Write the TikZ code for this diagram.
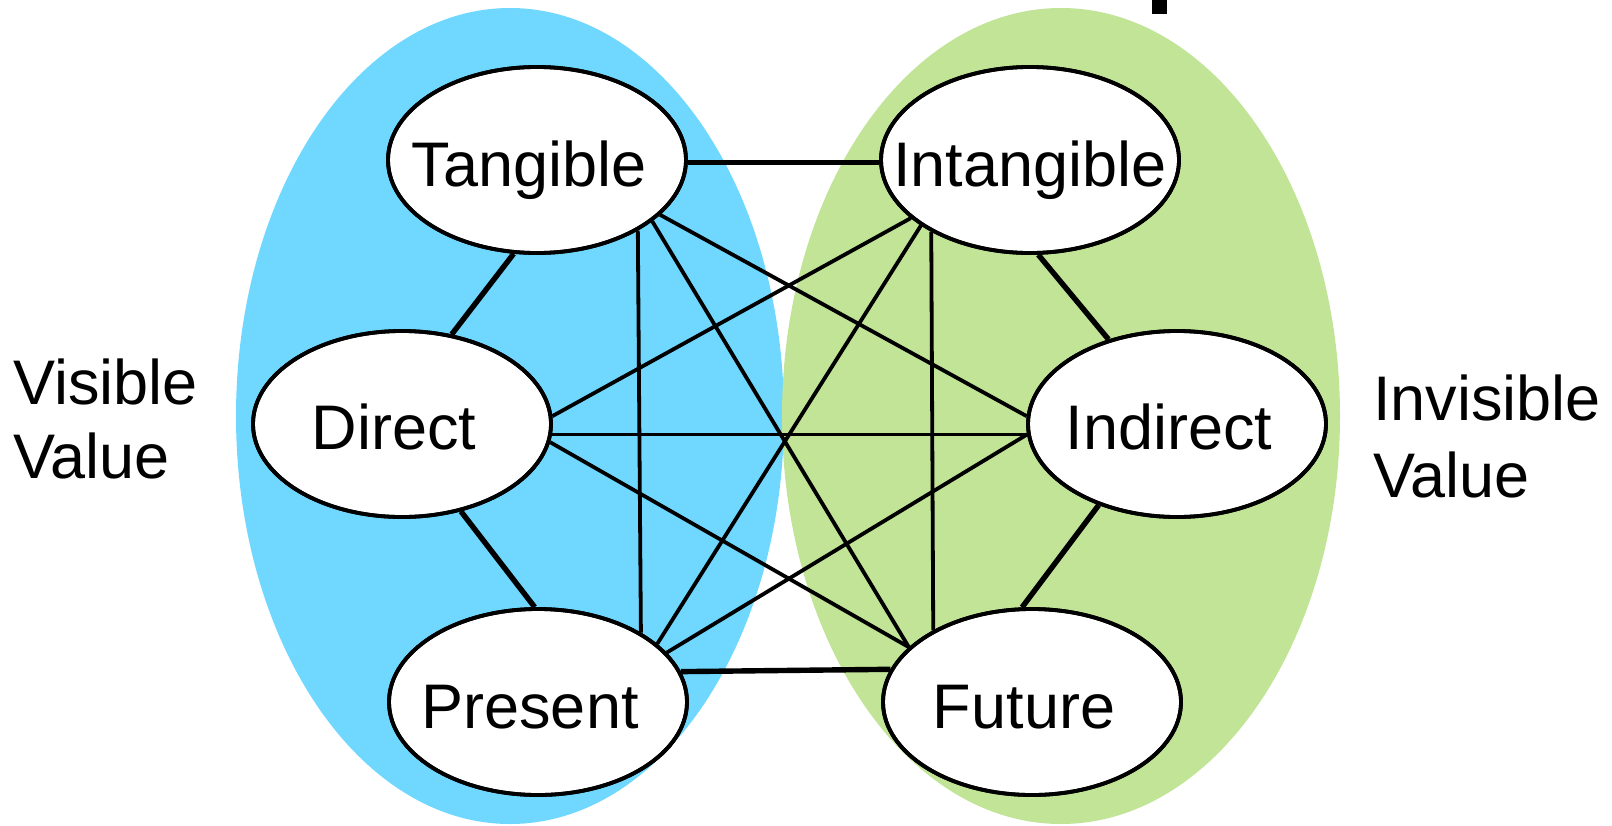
\documentclass[tikz,border=0pt]{standalone}
\usepackage{fontspec}
\setmainfont{Liberation Sans}
\usetikzlibrary{shapes.geometric}
\definecolor{vblue}{RGB}{112,216,255}
\definecolor{vgreen}{RGB}{193,228,151}
\tikzset{
  valnode/.style={ellipse, draw=black, line width=1.9pt, fill=white, minimum width=149pt, minimum height=93pt, inner sep=0pt},
  valtext/.style={font=\fontsize{31.5}{37}\selectfont, inner sep=0pt, anchor=base},
  sidetext/.style={font=\fontsize{31.5}{37}\selectfont, inner sep=0pt, anchor=base west},
  thicklink/.style={line width=2.7pt, black},
  thinlink/.style={line width=1.9pt, black},
}
\begin{document}
\begin{tikzpicture}[x=0.5pt, y=-0.5pt]
\useasboundingbox (0,0) rectangle (1612,825);
% big regions
\fill[vblue] (510,416) ellipse [x radius=274, y radius=408];
\fill[vgreen] (1061,416) ellipse [x radius=279, y radius=408];
\fill[black] (1152,0) rectangle (1167,14);
% nodes (shapes only; text placed afterwards)
\coordinate (cTan) at (537,160);
\coordinate (cDir) at (402,424);
\coordinate (cPre) at (538,702);
\coordinate (cInt) at (1030,160);
\coordinate (cInd) at (1177,424);
\coordinate (cFut) at (1032,702);
\path
  node[valnode] (tan) at (cTan) {}
  node[valnode] (dir) at (cDir) {}
  node[valnode] (pre) at (cPre) {}
  node[valnode] (int) at (cInt) {}
  node[valnode] (ind) at (cInd) {}
  node[valnode] (fut) at (cFut) {};
% thin links
\draw[thinlink] (tan.-35.4) -- (pre.34);
\draw[thinlink] (tan.-28.4) -- (fut.156);
\draw[thinlink] (tan.-24.8) -- (ind.177);
\draw[thinlink] (int.206.6) -- (dir.3);
\draw[thinlink] (int.211.4) -- (pre.26);
\draw[thinlink] (int.216.9) -- (fut.144.2);
\draw[thinlink] (dir.-4.7) -- (ind.184.7);
\draw[thinlink] (dir.-7) -- (fut.156.4);
\draw[thinlink] (pre.21) -- (ind.184.7);
% thick links
\draw[thicklink] (tan.-1.2) -- (int.181.2);
\draw[thicklink] (pre.12.4) -- (fut.167.6);
\draw[thicklink] (tan.-104.5) -- (dir.61.9);
\draw[thicklink] (dir.-56.6) -- (pre.92);
\draw[thicklink] (int.-85) -- (ind.129);
\draw[thicklink] (ind.-134) -- (fut.96.8);
% redraw node outlines over link ends
\foreach \n in {tan,dir,pre,int,ind,fut}{
  \draw[line width=1.9pt] (\n.center) ellipse [x radius=74.5pt, y radius=46.5pt];
}
% texts
\node[valtext] (tTan) at ([xshift=-4pt,yshift=-13pt]tan.center) {Tangible};
\node[valtext] (tDir) at ([xshift=-4pt,yshift=-12.5pt]dir.center) {Direct};
\node[valtext] (tPre) at ([xshift=-4pt,yshift=-13pt]pre.center) {Present};
\node[valtext] (tInt) at ([xshift=0pt,yshift=-13pt]int.center) {Intangible};
\node[valtext] (tInd) at ([xshift=-4pt,yshift=-12.5pt]ind.center) {Indirect};
\node[valtext] (tFut) at ([xshift=-4pt,yshift=-13pt]fut.center) {Future};
\node[sidetext] (vis1) at (13,404) {Visible};
\node[sidetext] (vis2) at (13,478) {Value};
\node[sidetext] (inv1) at (1373,420) {Invisible};
\node[sidetext] (inv2) at (1373,497) {Value};
\end{tikzpicture}
\end{document}
